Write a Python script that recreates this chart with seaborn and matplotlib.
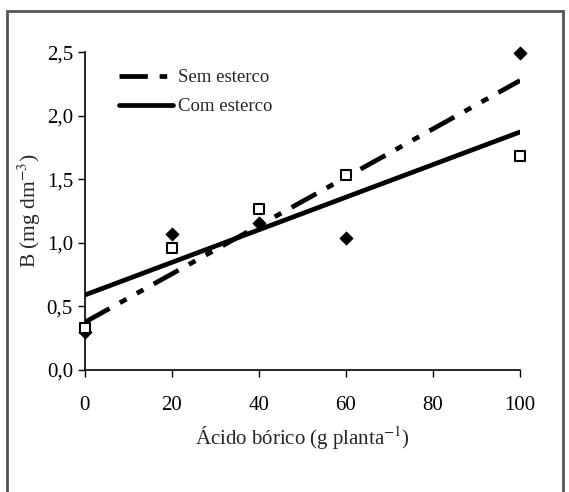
import numpy as np
import pandas as pd
import matplotlib
matplotlib.use("Agg")
import matplotlib.pyplot as plt
import seaborn as sns
from matplotlib.patches import Rectangle
from matplotlib.ticker import FuncFormatter

# Data
doses = [0, 20, 40, 60, 100]
sem_esterco = [0.30, 1.07, 1.16, 1.04, 2.49]
com_esterco = [0.33, 0.96, 1.27, 1.53, 1.68]
series_labels = ["Sem esterco", "Com esterco"]
x_ticks = [0, 20, 40, 60, 80, 100]
y_ticks = [0.0, 0.5, 1.0, 1.5, 2.0, 2.5]

sns.set_theme(style="ticks")
plt.rcParams['font.family'] = ['Liberation Serif', 'DejaVu Serif']
plt.rcParams['mathtext.fontset'] = 'stix'

df_sem = pd.DataFrame({"x": doses, "y": sem_esterco})
df_com = pd.DataFrame({"x": doses, "y": com_esterco})

fig = plt.figure(figsize=(5.69, 4.92), dpi=100)
ax = fig.add_axes([0.149, 0.248, 0.765, 0.646])

# regression lines
sns.regplot(data=df_sem, x="x", y="y", ax=ax, scatter=False, ci=None, truncate=True,
            label=series_labels[0],
            line_kws=dict(color="black", lw=3.4, dashes=(6, 2.5, 1.6, 2.5, 1.6, 2.5),
                          dash_capstyle="butt"))
sns.regplot(data=df_com, x="x", y="y", ax=ax, scatter=False, ci=None, truncate=True,
            label=series_labels[1],
            line_kws=dict(color="black", lw=3.4))

# points
sns.scatterplot(data=df_sem, x="x", y="y", ax=ax, marker="D", s=45, color="black",
                edgecolor="black", zorder=5, legend=False)
sns.scatterplot(data=df_com, x="x", y="y", ax=ax, marker="s", s=50, facecolor="white",
                edgecolor="black", linewidth=1.5, zorder=5, legend=False)
for coll in ax.collections:
    coll.set_clip_on(False)

ax.set_xlim(0, 100)
ax.set_ylim(0, 2.5)
ax.set_xticks(x_ticks)
ax.set_yticks(y_ticks)
ax.yaxis.set_major_formatter(FuncFormatter(lambda v, p: f"{v:.1f}".replace(".", ",")))
ax.xaxis.set_major_formatter(FuncFormatter(lambda v, p: f"{int(v)}"))
ax.tick_params(axis="both", labelsize=15, direction="out", length=5, width=1, colors="black")
ax.tick_params(axis="x", pad=14)
for s in ["top", "right"]:
    ax.spines[s].set_visible(False)
for s in ["left", "bottom"]:
    ax.spines[s].set_color("black")
    ax.spines[s].set_linewidth(1.2)

ax.set_xlabel("Ácido bórico (g planta$^{-1}$)", fontsize=15, labelpad=6)
ax.set_ylabel("B (mg dm$^{-3}$)", fontsize=15.5, labelpad=3)

leg = ax.legend(loc="upper left", bbox_to_anchor=(0.04, 1.0), frameon=False, fontsize=13.5,
                handlelength=2.9, handletextpad=0.25, labelspacing=0.65)

fig.patches.append(Rectangle((0.012, -0.02), 0.978, 0.998, transform=fig.transFigure,
                             fill=False, edgecolor="#555555", lw=2))

fig.savefig("out.png", dpi=100)
